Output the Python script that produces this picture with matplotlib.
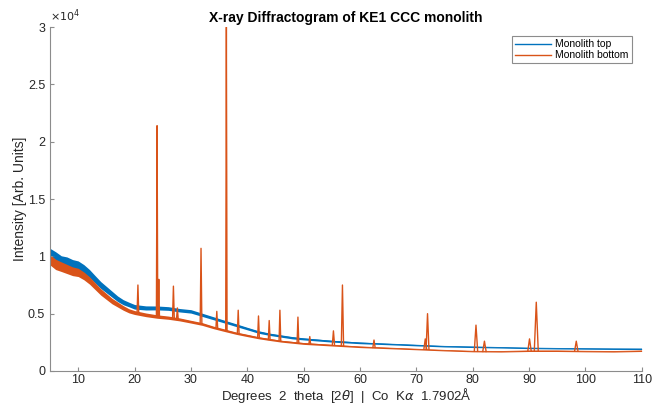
import numpy as np
import matplotlib.pyplot as plt
from matplotlib.ticker import FuncFormatter

plt.rcParams['font.family'] = ['Liberation Sans', 'DejaVu Sans']

# background (noise band centre + half-width), counts
bg_x = [5, 6, 7, 8, 9, 10, 11, 12, 13, 14, 15, 16, 17, 18, 19, 20, 22, 24, 26, 28,
        30, 32, 34, 36, 38, 40, 42, 44, 46, 48, 50, 55, 60, 65, 70, 75, 80, 85, 90,
        95, 100, 105, 110]
top_mid = [10200, 9900, 9600, 9500, 9300, 9200, 8900, 8500, 8000, 7500, 7100, 6700,
           6300, 6000, 5800, 5600, 5500, 5500, 5450, 5300, 5200, 4900, 4600, 4300,
           4000, 3700, 3400, 3200, 3050, 2900, 2800, 2600, 2450, 2350, 2250, 2150,
           2100, 2050, 2000, 1970, 1950, 1930, 1920]
top_hw = [500, 500, 450, 450, 420, 400, 380, 350, 320, 300, 280, 260, 240, 220, 200,
          200, 180, 170, 160, 150, 150, 140, 130, 120, 120, 110, 110, 100, 100, 100,
          90, 80, 70, 60, 60, 55, 55, 50, 50, 50, 50, 50, 50]
bot_mid = [9700, 9300, 9100, 8900, 8700, 8600, 8300, 7900, 7400, 6900, 6500, 6100,
           5800, 5500, 5250, 5100, 4900, 4750, 4650, 4500, 4300, 4100, 3800, 3550,
           3300, 3100, 2900, 2750, 2600, 2500, 2400, 2250, 2100, 2000, 1900, 1800,
           1720, 1700, 1750, 1750, 1720, 1700, 1750]
bot_hw = [450, 450, 420, 400, 380, 360, 340, 320, 300, 280, 260, 240, 220, 200, 180,
          170, 160, 150, 140, 130, 120, 120, 110, 110, 100, 100, 90, 90, 80, 80, 80,
          70, 60, 55, 50, 50, 50, 50, 50, 50, 50, 50, 50]

# crystalline peaks of the bottom sample
pk_x = [20.6, 24.0, 24.3, 26.9, 27.6, 31.8, 34.6, 36.3, 38.4, 42.0, 43.9, 45.8, 49.0,
        51.1, 55.3, 56.9, 62.5, 71.6, 72.0, 80.6, 82.1, 90.1, 91.3, 98.4]
pk_top = [7500, 21400, 8000, 7400, 5500, 10700, 5200, 30000, 5300, 4800, 4400, 5300,
          4700, 3000, 3500, 7500, 2700, 2800, 5000, 4000, 2600, 2800, 6000, 2600]
pk_base = [5000, 4750, 4750, 4600, 4500, 4100, 3750, 3500, 3300, 2900, 2750, 2600,
           2450, 2350, 2250, 2200, 2050, 1900, 1900, 1720, 1700, 1750, 1750, 1730]
pk_w = [0.15, 0.12, 0.12, 0.15, 0.15, 0.15, 0.15, 0.12, 0.15, 0.15, 0.15, 0.15, 0.15,
        0.15, 0.2, 0.2, 0.2, 0.25, 0.25, 0.3, 0.3, 0.3, 0.35, 0.3]

blue = '#0072BD'
orange = '#D95319'

fig = plt.figure(figsize=(6.53, 4.05), dpi=100)
ax = fig.add_axes([0.0766, 0.084, 0.906, 0.849])

bx = np.array(bg_x)
tm, th = np.array(top_mid), np.array(top_hw)
bm, bh = np.array(bot_mid), np.array(bot_hw)

ax.fill_between(bx, tm - th, tm + th, color=blue, lw=0)
ax.plot(bx, tm, color=blue, lw=0.6, label='Monolith top')
ax.fill_between(bx, bm - bh, bm + bh, color=orange, lw=0)
ax.plot(bx, bm, color=orange, lw=0.6, label='Monolith bottom')
for x, t, b, w in zip(pk_x, pk_top, pk_base, pk_w):
    ax.plot([x - w, x, x + w], [b, t, b], color=orange, lw=1.0)

ax.set_xlim(5, 110)
ax.set_ylim(0, 30000)
ax.set_xticks(np.arange(10, 111, 10))
ax.set_yticks(np.arange(0, 30001, 5000))
ax.yaxis.set_major_formatter(FuncFormatter(lambda v, p: '%g' % (v / 1e4)))
ax.text(0, 1.01, r'$\times10^4$', transform=ax.transAxes, fontsize=8,
        color='#262626', va='bottom', ha='left')

for s in ['top', 'right']:
    ax.spines[s].set_visible(False)
for s in ['left', 'bottom']:
    ax.spines[s].set_color('#8c8c8c')
    ax.spines[s].set_linewidth(0.8)
ax.tick_params(direction='in', length=3, width=0.8, color='#8c8c8c',
               labelcolor='#262626', labelsize=9)
ax.tick_params(axis='x', pad=2.5)

ax.set_xlabel(r'Degrees  2  theta  [2$\theta$]  |  Co  K$\alpha$  1.7902Å',
              fontsize=9.5, color='#262626', labelpad=-0.5)
ax.set_ylabel('Intensity [Arb. Units]', fontsize=10, color='#262626', labelpad=0.5)
ax.set_title('X-ray Diffractogram of KE1 CCC monolith', fontsize=10,
             fontweight='bold', color='#000000', pad=3.6)

leg = ax.legend(loc='upper right', bbox_to_anchor=(0.983, 0.974), fontsize=7.5,
                handlelength=3.4, fancybox=False, framealpha=1,
                borderpad=0.3, labelspacing=0.1, handletextpad=0.4,
                borderaxespad=0)
leg.get_frame().set_edgecolor('#8c8c8c')
leg.get_frame().set_linewidth(0.8)
for h in leg.get_lines():
    h.set_linewidth(1.0)

plt.savefig('out.png', dpi=100)
